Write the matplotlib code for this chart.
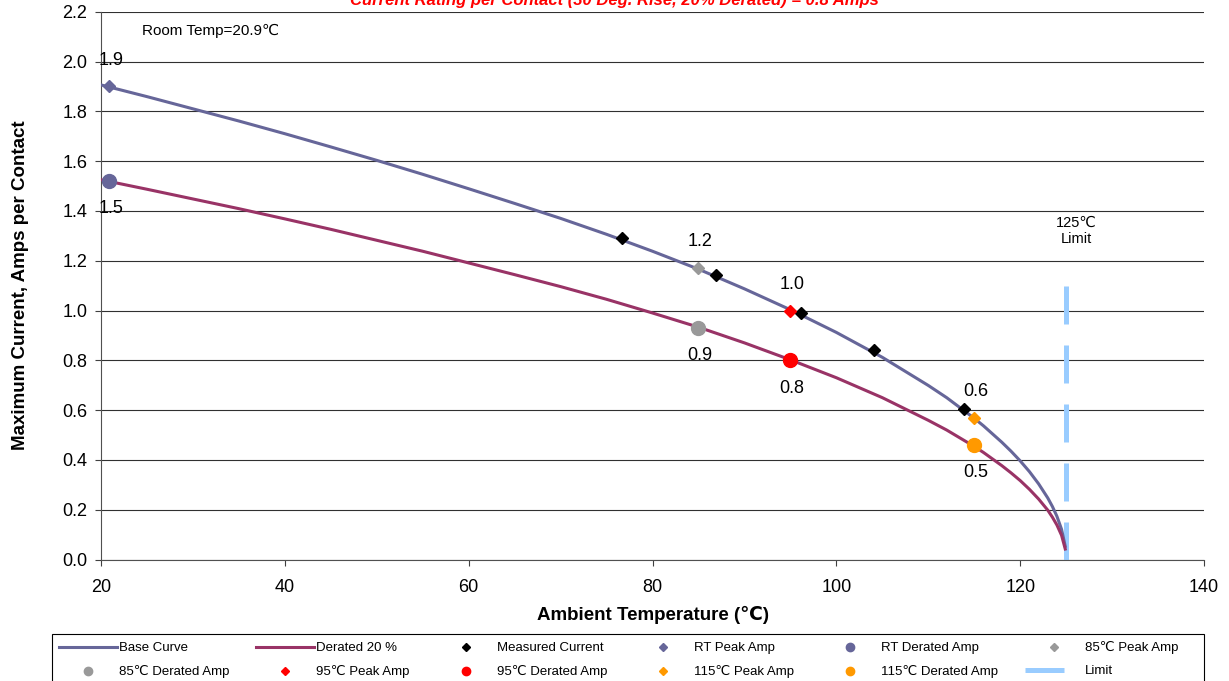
import matplotlib
matplotlib.use('Agg')
import matplotlib.pyplot as plt
from matplotlib.lines import Line2D
from matplotlib.patches import Rectangle

plt.rcParams['font.family'] = ['Liberation Sans', 'DejaVu Sans']

# curves
temp_curve = [19, 20, 25, 30, 35, 40, 45, 50, 55, 60, 65, 70, 75, 80, 85, 90, 95, 100,
              105, 110, 112, 115, 116, 118, 119, 120, 121, 122, 123, 123.5, 124, 124.5, 124.9]
base_curve = [1.916, 1.906, 1.859, 1.810, 1.761, 1.710, 1.657, 1.603, 1.547, 1.489, 1.430,
              1.370, 1.306, 1.238, 1.166, 1.087, 1.003, 0.912, 0.812, 0.699, 0.650, 0.567,
              0.537, 0.471, 0.435, 0.396, 0.353, 0.304, 0.247, 0.213, 0.173, 0.121, 0.053]
derated_curve = [1.533, 1.525, 1.487, 1.448, 1.409, 1.368, 1.326, 1.282, 1.238, 1.191, 1.144,
                 1.096, 1.045, 0.990, 0.933, 0.870, 0.802, 0.730, 0.650, 0.559, 0.520, 0.454,
                 0.430, 0.377, 0.348, 0.317, 0.282, 0.243, 0.198, 0.170, 0.138, 0.097, 0.042]

# measured points
meas_temp = [76.7, 86.9, 96.2, 104.1, 113.9]
meas_amp = [1.29, 1.143, 0.99, 0.84, 0.604]

# peak / derated points
pt_temp = [20.9, 85, 95, 115]
peak_amp = [1.90, 1.17, 1.00, 0.57]
derated_amp = [1.52, 0.93, 0.80, 0.46]
peak_labels = ['1.9', '1.2', '1.0', '0.6']
derated_labels = ['1.5', '0.9', '0.8', '0.5']
pt_names = ['RT', '85℃', '95℃', '115℃']
pt_colors = ['#666699', '#999999', '#FF0000', '#FF9900']

limit_temp = [125, 125]
limit_amp = [1.1, 0.0]

fig = plt.figure(figsize=(12.29, 6.81), dpi=100)
ax = fig.add_axes([0.0822, 0.1784, 0.8975, 0.8044])

handles = []
h, = ax.plot(temp_curve, base_curve, color='#666699', lw=2.2, label='Base Curve', zorder=3)
handles.append(h)
h, = ax.plot(temp_curve, derated_curve, color='#993366', lw=2.2, label='Derated 20 %', zorder=3)
handles.append(h)
h, = ax.plot(meas_temp, meas_amp, ls='none', marker='D', ms=6.5, color='black',
             label='Measured Current', zorder=5)
handles.append(h)

for t, pk, dr, pl, dl, nm, c in zip(pt_temp, peak_amp, derated_amp, peak_labels,
                                     derated_labels, pt_names, pt_colors):
    h1, = ax.plot([t], [pk], ls='none', marker='D', ms=6.5, color=c,
                  label=nm + ' Peak Amp', zorder=6)
    h2, = ax.plot([t], [dr], ls='none', marker='o', ms=10, color=c,
                  label=nm + ' Derated Amp', zorder=6)
    handles += [h1, h2]
    ax.annotate(pl, (t, pk), xytext=(1, 19), textcoords='offset points',
                ha='center', va='center', fontsize=13, zorder=7)
    ax.annotate(dl, (t, dr), xytext=(1, -20), textcoords='offset points',
                ha='center', va='center', fontsize=13, zorder=7)

ax.plot(limit_temp, limit_amp, color='#99CCFF', lw=3.6, dashes=(7.6, 4.2), zorder=2)
handles.append(Line2D([], [], color='#99CCFF', lw=3.6, dashes=(7.8, 12), label='Limit'))

ax.set_xlim(20, 140)
ax.set_ylim(0, 2.2)
ax.set_xticks(range(20, 141, 20))
ax.set_yticks([i * 0.2 for i in range(12)])
ax.set_yticklabels(['%.1f' % (i * 0.2) for i in range(12)])
ax.tick_params(labelsize=13, direction='out', length=4, color='#404040')
ax.tick_params(axis='x', pad=10)
ax.tick_params(axis='y', pad=6)
ax.grid(axis='y', color='#303030', lw=0.8)
ax.set_axisbelow(True)
for s in ['top', 'right']:
    ax.spines[s].set_visible(False)
for s in ['left', 'bottom']:
    ax.spines[s].set_color('#505050')

ax.set_xlabel('Ambient Temperature (℃)', fontsize=13.5, fontweight='bold', labelpad=7)
ax.set_ylabel('Maximum Current, Amps per Contact', fontsize=13.5, fontweight='bold', labelpad=24)

ax.text(31.9, 2.122, 'Room Temp=20.9℃', fontsize=11, ha='center', va='center')
ax.text(126.1, 1.319, '125℃\nLimit', fontsize=10.5, ha='center', va='center', linespacing=1.25)

fig.text(0.5, 1.0, 'Current Rating per Contact (30 Deg. Rise, 20% Derated) = 0.8 Amps',
         color='red', fontsize=12, fontweight='bold', style='italic', ha='center', va='center')

# legend box
fig.add_artist(Rectangle((52 / 1229, -0.05), (1204 - 52) / 1229, 0.05 + 1 - 634 / 681,
                         transform=fig.transFigure, fill=False, edgecolor='black', lw=0.8))

order = [0, 6, 1, 7, 2, 8, 3, 9, 4, 10, 5, 11]
leg = fig.legend([handles[i] for i in order], [handles[i].get_label() for i in order],
                 ncol=6, loc='upper left',
                 bbox_to_anchor=(59 / 1229, 0, (1178 - 59) / 1229, 1 - 641.4 / 681),
                 mode='expand', fontsize=9.5, frameon=False,
                 handlelength=4.4, handletextpad=0.15, markerscale=0.6,
                 borderaxespad=0, labelspacing=0.82, borderpad=0)

fig.savefig('out.png', dpi=100)
